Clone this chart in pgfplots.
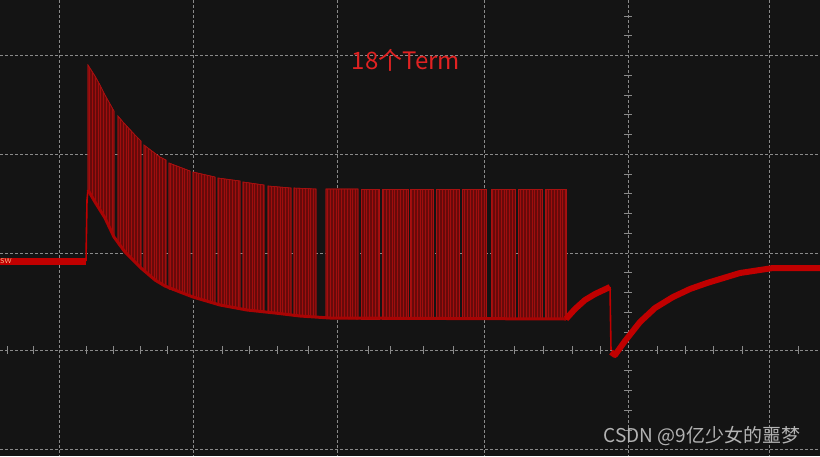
\documentclass[border=0pt]{standalone}
\usepackage{pgfplots}
\pgfplotsset{compat=1.18}
\usepackage{fontspec}
\newfontfamily\cjk{Noto Sans CJK SC}
\usetikzlibrary{patterns.meta}

\definecolor{scopebg}{HTML}{141414}
\definecolor{gridgray}{HTML}{8A8A8A}
\definecolor{trace}{HTML}{C00000}
\definecolor{lowtrace}{HTML}{A80404}
\definecolor{burstfill}{HTML}{680A0A}
\definecolor{burstline}{HTML}{A00E0E}
\definecolor{burstedge}{HTML}{A81010}
\definecolor{titlered}{HTML}{E02222}
\definecolor{mark}{HTML}{B4B4B4}

\begin{document}
\begin{tikzpicture}
\begin{axis}[
    width=410pt, height=228pt, scale only axis,
    xmin=0, xmax=820, ymin=0, ymax=456,
    y dir=reverse,
    axis line style={draw=none},
    axis background/.style={fill=scopebg},
    xtick={59,193,337,484,628,769},
    ytick={55,154,253,350,449},
    xticklabels={}, yticklabels={},
    major tick length=0pt,
    grid=major,
    grid style={gridgray, line width=0.5pt, dash pattern=on 1.5pt off 1pt},
    burst/.style={fill=burstfill, draw=burstedge, line width=0.3pt,
        postaction={pattern={Lines[angle=90,distance=1.4pt,line width=0.5pt]},
                    pattern color=burstline}},
]

% small ticks on the centre lines
\pgfplotsinvokeforeach{7,33,86,113,140,167,222,249,277,308,368,390,423,453,514,543,572,600,657,685,713,742,798}{
  \draw[gridgray, line width=0.5pt] (axis cs:#1,346) -- (axis cs:#1,354);
}
\pgfplotsinvokeforeach{16,35,75,95,114,134,174,193,213,233,272,292,312,332,370,390,410,430}{
  \draw[gridgray, line width=0.5pt] (axis cs:624,#1) -- (axis cs:632,#1);
}

% bursts
\addplot[burst] coordinates {(88,190)(88,65)(95,76)(100,85)(105,95)(114,111)(114,237)(105,218)(95,202)} --cycle;
\addplot[burst] coordinates {(118,244)(118,116)(123,122)(135,135)(141,141)(141,268)(125,252)} --cycle;
\addplot[burst] coordinates {(144,271)(144,145)(160,157)(166,160)(166,286)(155,280)} --cycle;
\addplot[burst] coordinates {(169,289)(169,163)(190,171)(190,296)(180,292)} --cycle;
\addplot[burst] coordinates {(193,297)(193,172)(215,177)(215,303)} --cycle;
\addplot[burst] coordinates {(218,304)(218,178)(240,181)(240,308)} --cycle;
\addplot[burst] coordinates {(243,309)(243,182)(264,185)(264,312)} --cycle;
\addplot[burst] coordinates {(268,312)(268,186)(291,188)(291,315)} --cycle;
\addplot[burst] coordinates {(294,316)(294,188)(316,189)(316,317)} --cycle;
\addplot[burst] coordinates {(326,318)(326,189)(358,189)(358,319)} --cycle;
\addplot[burst] coordinates {(361,319)(361,189)(379,189)(379,319)} --cycle;
\addplot[burst] coordinates {(382,319)(382,189)(408,189)(408,319)} --cycle;
\addplot[burst] coordinates {(410,319)(410,189)(433,189)(433,319)} --cycle;
\addplot[burst] coordinates {(436,319)(436,189)(459,189)(459,319)} --cycle;
\addplot[burst] coordinates {(462,319)(462,189)(486,189)(486,319)} --cycle;
\addplot[burst] coordinates {(491,319)(491,189)(515,189)(515,319)} --cycle;
\addplot[burst] coordinates {(518,319)(518,189)(542,189)(542,319)} --cycle;
\addplot[burst] coordinates {(545,319)(545,189)(566,189)(566,319)} --cycle;

% idle level before the bursts
\addplot[trace, line width=3.5pt] coordinates {(0,261)(86,261)};
\addplot[trace, line width=0.8pt] coordinates {(86,261)(87,200)(88,190)};
% lower envelope and recovery
\addplot[lowtrace, line width=1.5pt, line join=round] coordinates {
  (88,190)(95,202)(105,218)(114,237)(125,252)(141,268)(155,280)(165,286)
  (180,292)(193,297)(220,305)(247,310)(275,313)(300,316)(330,318)(566,319)};
\addplot[trace, line width=3pt, line join=round] coordinates {
  (566,319)(575,309)(585,300)(595,294)(610,287)};
\addplot[trace, line width=0.8pt] coordinates {(610,287)(611,350)};
\addplot[trace, line width=3pt, line join=round] coordinates {
  (611,352)(615,355)(625,341)(640,322)(655,308)(673,297)(690,289)(707,283)
  (740,273)(773,268)(820,268)};

\node[text=titlered, font=\cjk\fontsize{12}{12}\selectfont] at (axis cs:406,60) {18个Term};
\node[text=mark, font=\cjk\fontsize{9.5}{9.5}\selectfont] at (axis cs:702,436) {CSDN @9亿少女的噩梦};
\node[text=orange!40, font=\fontsize{3.5}{3.5}\selectfont\sffamily, anchor=west, inner sep=0pt] at (axis cs:0,261) {SW};
\end{axis}
\pgfresetboundingbox
\path[use as bounding box] (current axis.south west) rectangle (current axis.north east);
\end{tikzpicture}
\end{document}
